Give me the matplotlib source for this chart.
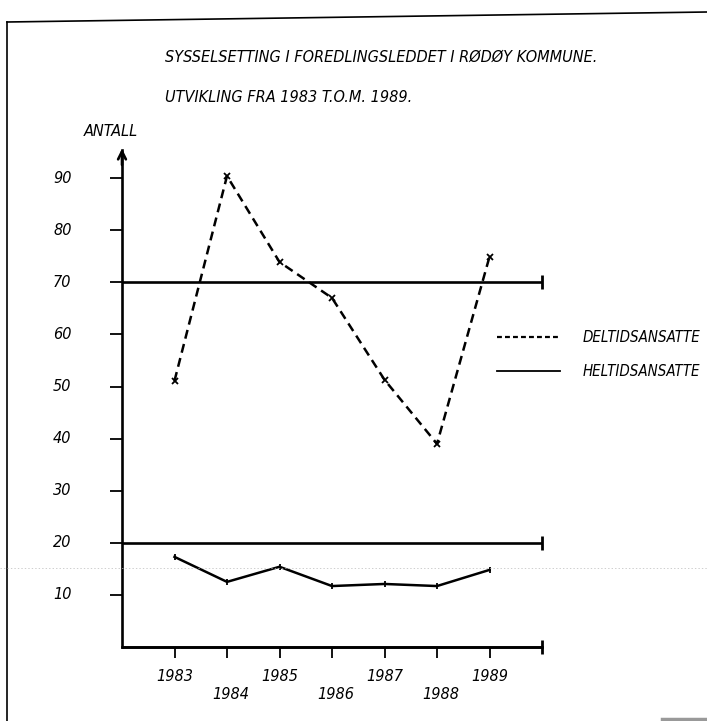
import numpy as np
import matplotlib
matplotlib.use('Agg')
from matplotlib import pyplot as plt
from matplotlib.lines import Line2D

# data
years = [1983, 1984, 1985, 1986, 1987, 1988, 1989]
deltid = [51.1, 90.4, 73.9, 67.0, 51.3, 39.0, 74.9]   # DELTIDSANSATTE (dashed)
heltid = [17.3, 12.5, 15.4, 11.7, 12.1, 11.7, 14.8]   # HELTIDSANSATTE (solid)
ref_levels = [70, 20]                                  # long horizontal lines
y_ticks = [10, 20, 30, 40, 50, 60, 70, 80, 90]

title = 'SYSSELSETTING I FOREDLINGSLEDDET I RØDØY KOMMUNE.'
subtitle = 'UTVIKLING FRA 1983 T.O.M. 1989.'

W, H = 707, 721
plt.rcParams['font.family'] = ['DejaVu Sans']
fnt = dict(style='italic', fontsize=11.6, fontstretch='condensed')

fig = plt.figure(figsize=(W / 100, H / 100), dpi=100)
fig.patch.set_facecolor('white')

# axes placed so that x 1982..1990 and y 0..95.4 land where the drawing has them
ax = fig.add_axes([122 / W, (H - 647) / H, 420 / W, 497 / H])
ax.set_xlim(1982, 1990)
ax.set_ylim(0, 95.4)
ax.patch.set_alpha(0)

for s in ['top', 'right']:
    ax.spines[s].set_visible(False)
for s in ['left', 'bottom']:
    ax.spines[s].set_linewidth(1.9)
    ax.spines[s].set_color('black')

ax.set_yticks(y_ticks)
ax.set_xticks(years)
ax.tick_params(axis='y', direction='out', length=8.5, width=1.3, labelleft=False)
ax.tick_params(axis='x', direction='out', length=8, width=1.3, labelbottom=False)

# arrow head on the y axis
ax.annotate('', xy=(1982, 96.2), xytext=(1982, 92), annotation_clip=False,
            arrowprops=dict(arrowstyle='->', lw=1.9, color='black', mutation_scale=14))

# reference lines and end cap on the x axis
for lev in ref_levels + [0]:
    ax.plot([1982, 1990], [lev, lev], color='black', lw=1.9, clip_on=False,
            solid_capstyle='butt')
    ax.plot([1990], [lev], marker='|', ms=10, mew=2, color='black', clip_on=False)

ax.plot(years, deltid, color='black', lw=1.8, linestyle=(0, (3.6, 2.2)),
        marker='x', ms=4, mew=1.3, clip_on=False)
ax.plot(years, heltid, color='black', lw=1.8, marker='|', ms=4, mew=1.3, clip_on=False)

# y tick labels
for v in y_ticks:
    ax.annotate(str(v), xy=(1982, v), xytext=(-43, 0), textcoords='offset points',
                ha='center', va='center', annotation_clip=False, **fnt)

# staggered year labels
for i, yr in enumerate(years):
    if i % 2 == 0:
        off = (0, -21)
    else:
        off = (3, -34)
    ax.annotate(str(yr), xy=(yr, 0), xytext=off, textcoords='offset points',
                ha='center', va='center', annotation_clip=False, **fnt)

def fx(px):
    return px / W

def fy(py):
    return 1 - py / H

fig.text(fx(165), fy(57), title, ha='left', va='center', **fnt)
fig.text(fx(165), fy(97), subtitle, ha='left', va='center', **fnt)
fig.text(fx(111), fy(131), 'ANTALL', ha='center', va='center', **fnt)

# legend drawn by hand, kept just inside the right edge
leg = dict(style='italic', fontsize=10.8, fontstretch='condensed')
fig.add_artist(Line2D([fx(497), fx(560)], [fy(337), fy(337)], color='black', lw=1.6,
                      linestyle=(0, (2.2, 1.4))))
fig.add_artist(Line2D([fx(497), fx(560)], [fy(371), fy(371)], color='black', lw=1.3))
fig.text(fx(583), fy(337), 'DELTIDSANSATTE', ha='left', va='center', **leg)
fig.text(fx(583), fy(371), 'HELTIDSANSATTE', ha='left', va='center', **leg)

# page frame of the scan
fig.add_artist(Line2D([fx(7), fx(7)], [fy(22), 0], color='black', lw=1.2))
fig.add_artist(Line2D([fx(7), 1], [fy(22), fy(12)], color='black', lw=1.2))
fig.add_artist(Line2D([0, 1], [fy(568), fy(568)], color='#bbbbbb', lw=0.5,
                      linestyle=(0, (2, 3))))
fig.add_artist(Line2D([fx(662), 1], [fy(719), fy(719)], color='#999999', lw=2.5))

fig.savefig('out.png', dpi=100)
